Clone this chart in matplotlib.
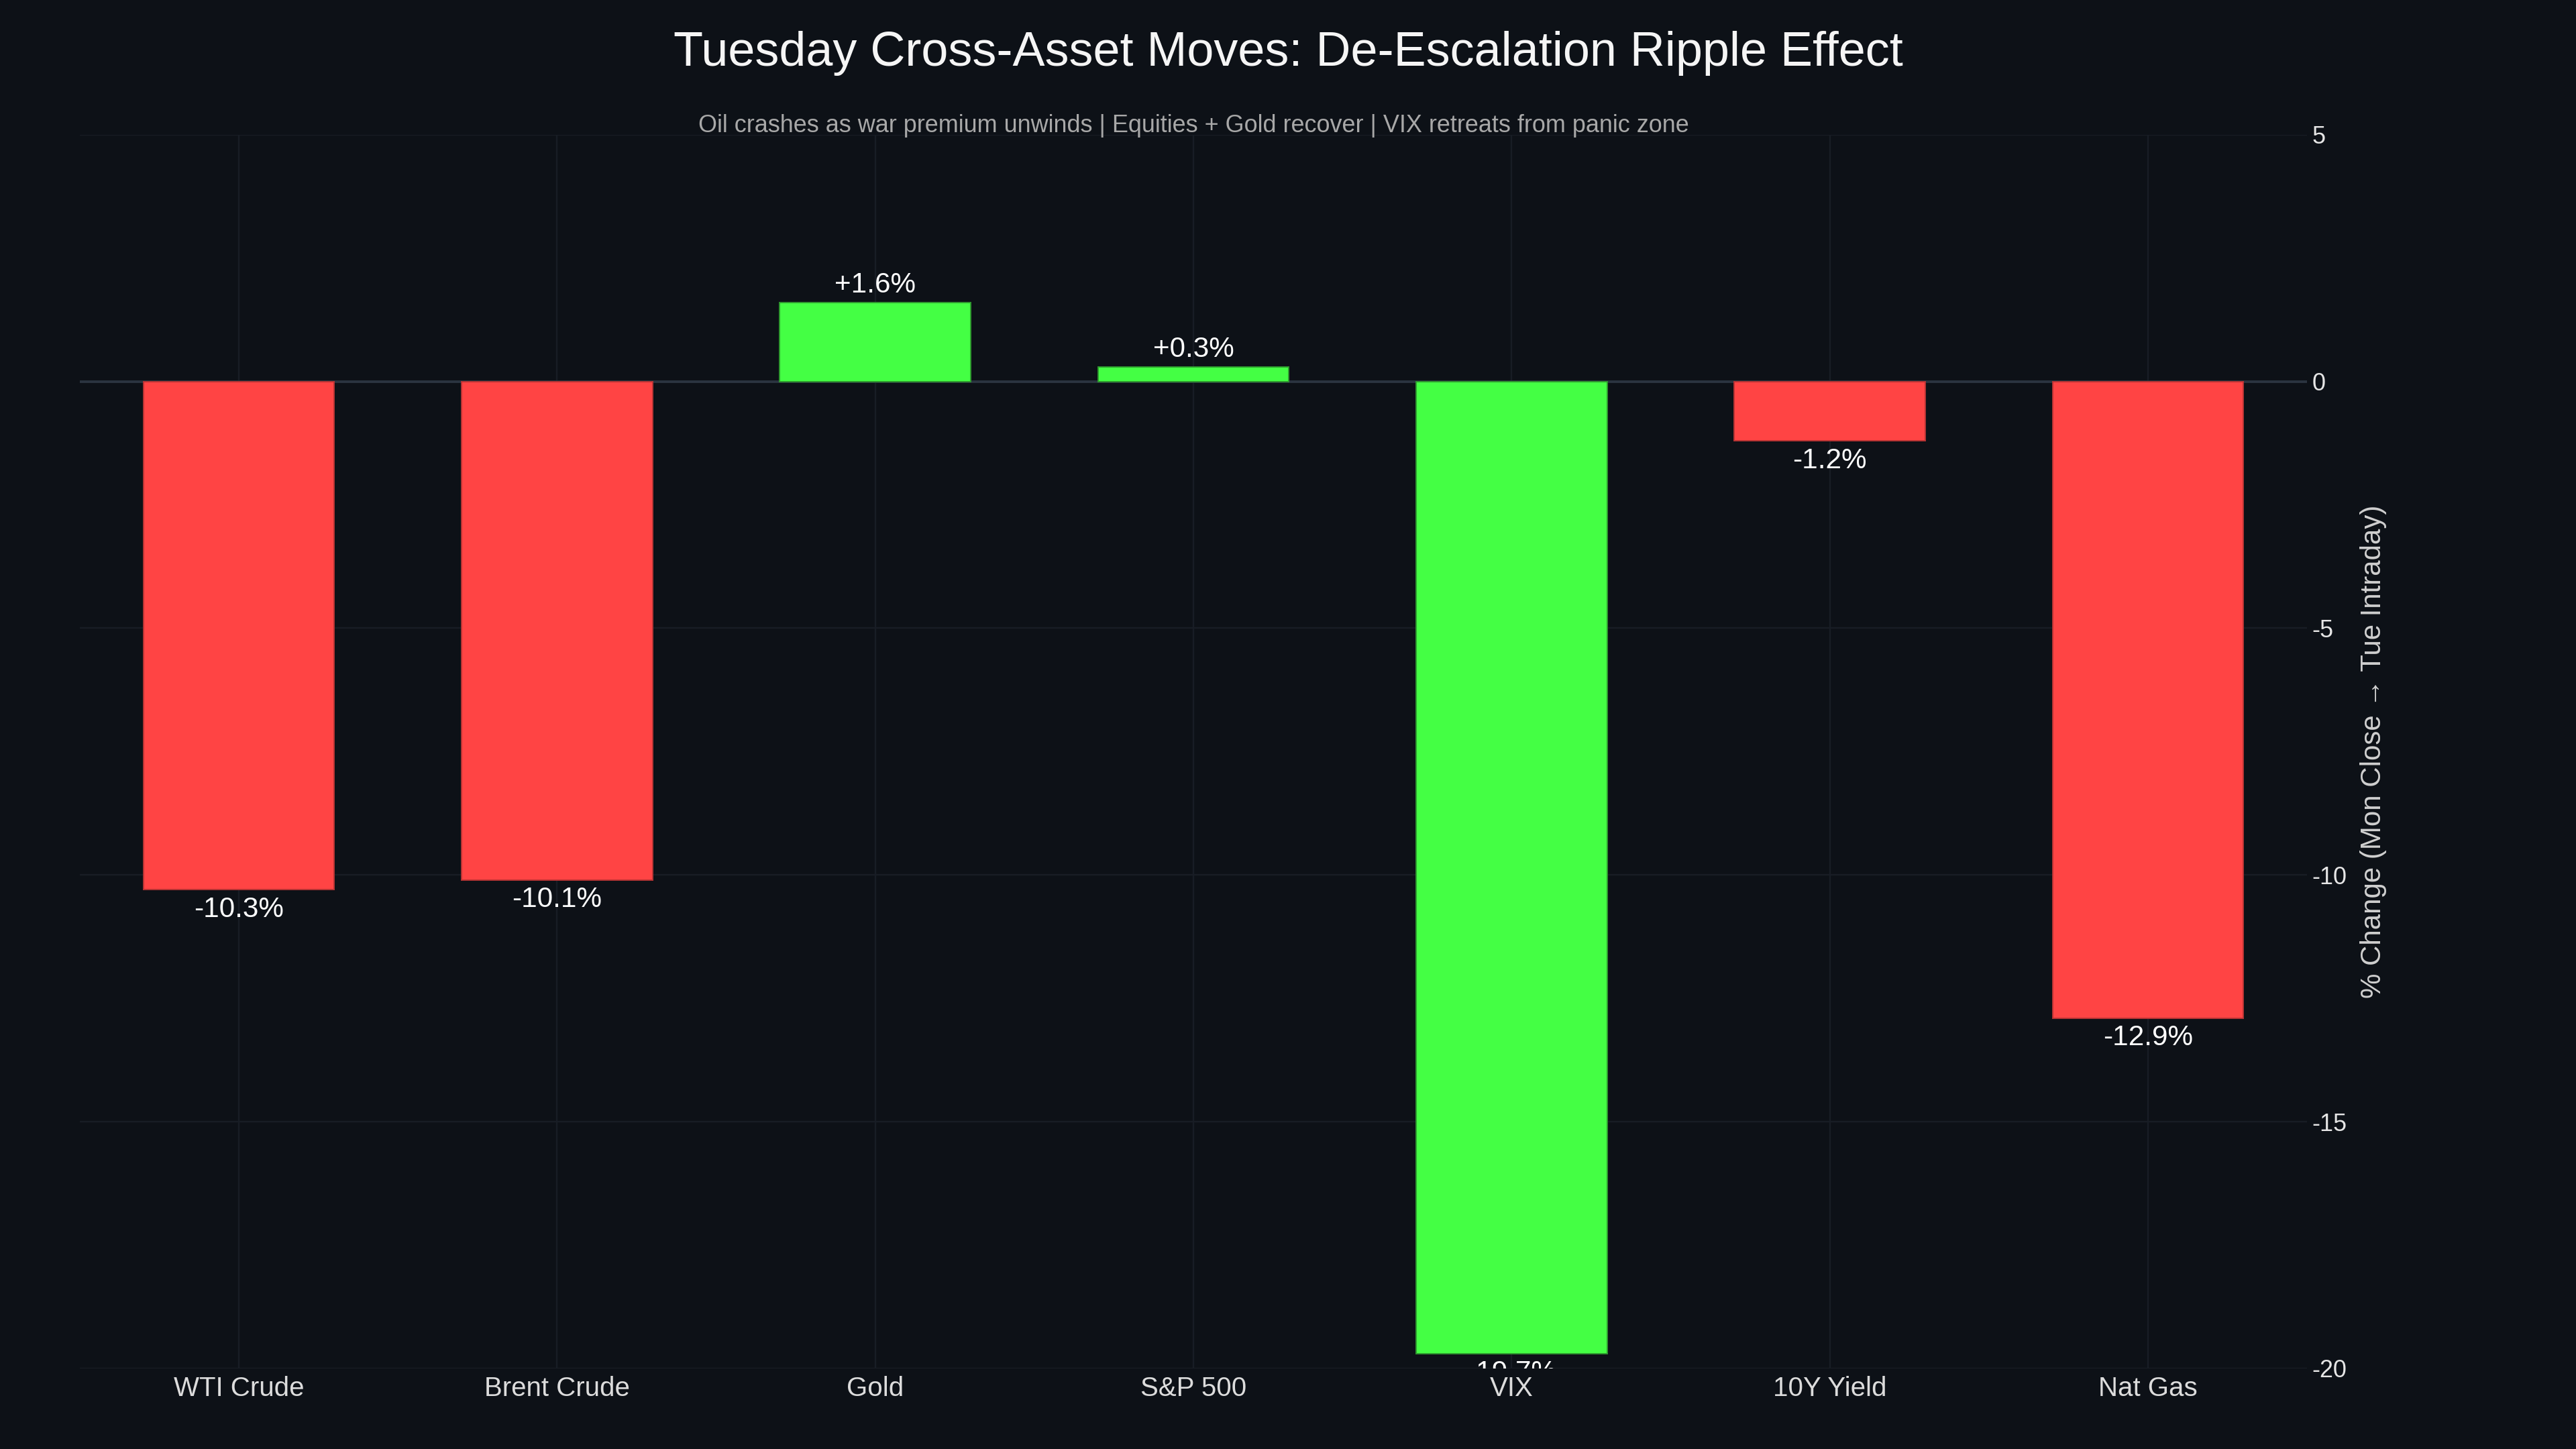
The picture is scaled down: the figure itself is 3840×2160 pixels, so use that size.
import matplotlib
matplotlib.use("Agg")
import matplotlib.pyplot as plt
import numpy as np

categories = ["WTI Crude", "Brent Crude", "Gold", "S&P 500", "VIX", "10Y Yield", "Nat Gas"]
values = [-10.3, -10.1, 1.6, 0.3, -19.7, -1.2, -12.9]
bar_colors = ["#FF4444", "#FF4444", "#44FF44", "#44FF44", "#44FF44", "#FF4444", "#FF4444"]
edge_colors = ["#b83434", "#b83434", "#2f9a2f", "#2f9a2f", "#2f9a2f", "#b83434", "#b83434"]
y_ticks = [5, 0, -5, -10, -15, -20]

title = "Tuesday Cross-Asset Moves: De-Escalation Ripple Effect"
subtitle = "Oil crashes as war premium unwinds | Equities + Gold recover | VIX retreats from panic zone"
y_label = "% Change (Mon Close \u2192 Tue Intraday)"

BG = "#0d1117"
U = 1.728  # layout px -> pt

plt.rcParams["font.family"] = ["Liberation Sans", "DejaVu Sans"]

fig = plt.figure(figsize=(38.4, 21.6), dpi=100, facecolor=BG)
ax = fig.add_axes([0.0310, 0.0556, 0.8646, 0.8514])
ax.set_facecolor(BG)

x = np.arange(len(categories))
ax.bar(x, values, width=0.6, color=bar_colors, edgecolor=edge_colors,
       linewidth=0.8 * U, zorder=3)

ax.set_xlim(-0.5, len(categories) - 0.5)
ax.set_ylim(-20, 5)

ax.set_xticks(x)
ax.set_xticklabels(categories, fontsize=16.8 * U, color="#dcdcdc")
ax.set_yticks(y_ticks)
ax.set_yticklabels([str(t) for t in y_ticks], fontsize=15 * U, color="#e6e6e6")
ax.yaxis.tick_right()
ax.yaxis.set_label_position("right")
ax.tick_params(axis="both", length=0)
ax.tick_params(axis="x", pad=4.5 * U)
ax.tick_params(axis="y", pad=3 * U)
ax.grid(True, color="#181d25", linewidth=1.0 * U, zorder=0)
ax.set_axisbelow(True)
ax.axhline(0, color="#2b3440", linewidth=1.6 * U, zorder=2)
for s in ax.spines.values():
    s.set_visible(False)

for xi, v in zip(x, values):
    txt = f"{v:+.1f}%"
    if v >= 0:
        t = ax.annotate(txt, xy=(xi, v), xytext=(0, 2.5 * U), textcoords="offset points",
                        ha="center", va="bottom", fontsize=17.6 * U, color="#ffffff",
                        zorder=4, annotation_clip=False)
    else:
        t = ax.annotate(txt, xy=(xi, v), xytext=(0, -4 * U), textcoords="offset points",
                        ha="center", va="top", fontsize=17.6 * U, color="#ffffff",
                        zorder=4, annotation_clip=False)
    t.set_clip_on(True)
    t.set_clip_path(ax.patch)

ax.set_ylabel(y_label, fontsize=17.5 * U, color="#d0d0d0", labelpad=8 * U, rotation=90)

fig.text(0.5, 0.963, title, ha="center", va="center", fontsize=30 * U, color="#f5f5f5")
fig.text(0.0310 + 0.8646 / 2, 0.913, subtitle, ha="center", va="center",
         fontsize=15 * U, color="#a8a8a8")

fig.savefig("out.png", dpi=100, facecolor=BG)
